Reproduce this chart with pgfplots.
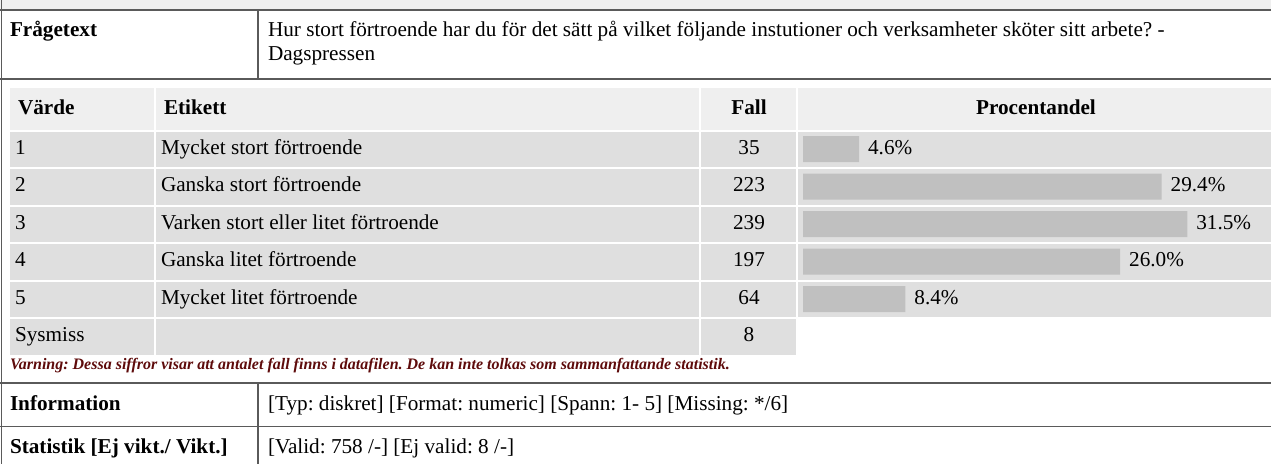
\documentclass[border=0pt]{standalone}
\usepackage{pgfplots}
\pgfplotsset{compat=1.18}
\usepackage{fontspec}
\setmainfont{Liberation Serif}
\definecolor{hdr}{HTML}{EFEFEF}
\definecolor{rowc}{HTML}{DFDFDF}
\definecolor{barc}{HTML}{C0C0C0}
\definecolor{linec}{HTML}{5A5A5A}
\definecolor{warn}{HTML}{5E0B0B}
\begin{document}
\frenchspacing
\fontsize{21.2}{25}\selectfont
\begin{tikzpicture}[x=1pt,y=-1pt, every node/.style={inner sep=0pt, outer sep=0pt}]
\path[use as bounding box] (0,0) rectangle (1271,464);
% backgrounds
\fill[hdr] (0,0) rectangle (1271,10);
\fill[hdr] (10,88) rectangle (1271,130);
\foreach \i in {0,...,4} {
  \pgfmathsetmacro\ya{131.5+37.5*\i}
  \pgfmathsetmacro\yb{\ya+35.5}
  \fill[rowc] (10,\ya) rectangle (1271,\yb);
}
\fill[rowc] (10,319) rectangle (797,355);
\fill[white] (154,88) rectangle (156,355);
\fill[white] (699,88) rectangle (701,355);
\fill[white] (796,88) rectangle (798,355);
% borders
\begin{scope}[linec, line width=1.5pt]
\draw (1.5,0) -- (1.5,464);
\draw (0,10) -- (1271,10);
\draw (0,79) -- (1271,79);
\draw (258,10) -- (258,79);
\draw (0,383) -- (1271,383);
\draw (0,426.5) -- (1271,426.5);
\draw (258,383) -- (258,464);
\end{scope}
% texts
\node[anchor=base west, font=\bfseries] at (10,36.5) {Frågetext};
\node[anchor=base west] at (268,36.5) {Hur stort förtroende har du för det sätt på vilket följande instutioner och verksamheter sköter sitt arbete? -};
\node[anchor=base west] at (268,60.5) {Dagspressen};
\node[anchor=base west, font=\bfseries] at (18,114) {Värde};
\node[anchor=base west, font=\bfseries] at (164,114) {Etikett};
\node[anchor=base, font=\bfseries] at (749,114) {Fall};
\node[anchor=base, font=\bfseries] at (1036,114) {Procentandel};
\foreach \v/\lab/\n [count=\i from 0] in {1/Mycket stort förtroende/35, 2/Ganska stort förtroende/223, 3/Varken stort eller litet förtroende/239, 4/Ganska litet förtroende/197, 5/Mycket litet förtroende/64} {
  \pgfmathsetmacro\yy{154+37.5*\i}
  \node[anchor=base west] at (15,\yy) {\v};
  \node[anchor=base west] at (161,\yy) {\lab};
  \node[anchor=base] at (749,\yy) {\n};
}
\node[anchor=base west] at (15,341.5) {Sysmiss};
\node[anchor=base] at (749,341.5) {8};
\node[anchor=base west, font=\fontsize{16}{19}\selectfont\bfseries\itshape, text=warn] at (10,369) {Varning: Dessa siffror visar att antalet fall finns i datafilen. De kan inte tolkas som sammanfattande statistik.};
\node[anchor=base west, font=\bfseries] at (10,410) {Information};
\node[anchor=base west] at (268,410) {[Typ: diskret] [Format: numeric] [Spann: 1- 5] [Missing: */6]};
\node[anchor=base west, font=\bfseries] at (10,453) {Statistik [Ej vikt./ Vikt.]};
\node[anchor=base west] at (268,453) {[Valid: 758 /-] [Ej valid: 8 /-]};
% bars
\begin{axis}[at={(803pt,-130.25pt)}, anchor=north west, scale only axis,
  width=463.6pt, height=187.5pt, xmin=0, xmax=38, ymin=0.5, ymax=5.5,
  y dir=reverse, hide axis, clip=false, xbar, bar width=26pt, bar shift=0pt,
  point meta=x, /pgf/number format/assume math mode=true,
  nodes near coords={\pgfmathprintnumber[fixed,fixed zerofill,precision=1]{\pgfplotspointmeta}\%},
  nodes near coords style={anchor=base west, xshift=9pt, yshift=-5pt, inner sep=0pt, font=\fontsize{21.2}{25}\selectfont, text=black}]
\addplot[fill=barc, draw=none] coordinates {(4.6,1) (29.4,2) (31.5,3) (26.0,4) (8.4,5)};
\end{axis}
\end{tikzpicture}
\end{document}
